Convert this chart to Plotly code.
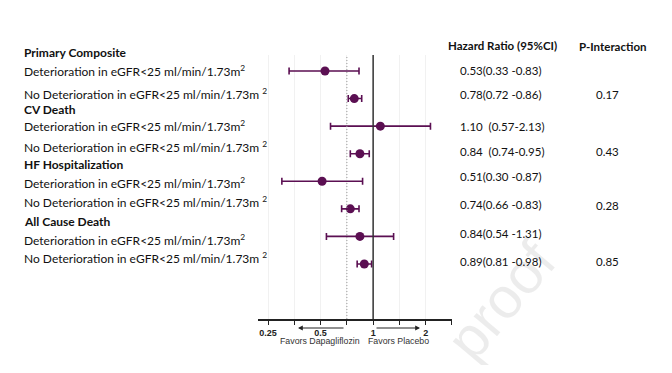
import plotly.graph_objects as go
import math

# the page adds an 8px body margin, so the figure is drawn 8px in from the corner
PAGE_W, PAGE_H, OFF = 672, 373, 8
W, H = PAGE_W - 2 * OFF, PAGE_H - 2 * OFF

# ---------------- data ----------------
outcomes = ["Primary Composite", "CV Death", "HF Hospitalization", "All Cause Death"]
subgroups = ["Deterioration in eGFR<25 ml/min/1.73m<sup>2</sup>",
             "No Deterioration in eGFR<25 ml/min/1.73m <sup>2</sup>"]
hr = [0.53, 0.78, 1.10, 0.84, 0.51, 0.74, 0.84, 0.89]
ci_lo = [0.33, 0.72, 0.57, 0.74, 0.30, 0.66, 0.54, 0.81]
ci_hi = [0.83, 0.86, 2.13, 0.95, 0.87, 0.83, 1.31, 0.98]
hr_text = ["0.53(0.33 -0.83)", "0.78(0.72 -0.86)", "1.10  (0.57-2.13)", "0.84  (0.74-0.95)",
           "0.51(0.30 -0.87)", "0.74(0.66 -0.83)", "0.84(0.54 -1.31)", "0.89(0.81 -0.98)"]
p_interaction = ["0.17", "0.43", "0.28", "0.85"]
tick_vals = [0.25, 0.3536, 0.5, 0.7071, 1, 1.4142, 2, 2.8284]
tick_text = ["<b>0.25</b>", "", "<b>0.5</b>", "", "<b>1</b>", "", "<b>2</b>", ""]
ref_overall = 0.7071

rows = list(range(1, len(hr) + 1))

# ---------------- layout helpers (page pixels -> paper) ----------------
def px(x):
    return (x - OFF) / W

def py(y):
    return 1 - (y - OFF) / H

PURPLE = "#5b0f52"
TXT = "Lato"
AX = "Liberation Sans"

fig = go.Figure()
fig.add_trace(go.Scatter(
    x=hr, y=rows, mode="markers",
    marker=dict(color=PURPLE, size=9),
    error_x=dict(type="data", symmetric=False,
                 array=[h - m for h, m in zip(ci_hi, hr)],
                 arrayminus=[m - l for m, l in zip(hr, ci_lo)],
                 color=PURPLE, thickness=1.6, width=3.5),
    showlegend=False, hoverinfo="skip",
))

ann = []
label_y_hdr = [52, 109, 164, 221.5]
label_y_rows = [71, 93.5, 126.5, 147.5, 183, 202, 239.5, 258]
for i, name in enumerate(outcomes):
    ann.append(dict(text="<b>" + name + "</b>", x=px(22), y=py(label_y_hdr[i]),
                    xanchor="left", yanchor="middle", showarrow=False,
                    font=dict(family=TXT, size=12, color="#111")))
    for j, sg in enumerate(subgroups):
        ann.append(dict(text=sg, x=px(22), y=py(label_y_rows[2 * i + j]),
                        xanchor="left", yanchor="middle", showarrow=False,
                        font=dict(family=TXT, size=12, color="#111")))

ann.append(dict(text="<b>Hazard Ratio (95%CI)</b>", x=px(446), y=py(46), xanchor="left",
                yanchor="middle", showarrow=False, font=dict(family=TXT, size=11.5, color="#111")))
ann.append(dict(text="<b>P-Interaction</b>", x=px(577), y=py(46.5), xanchor="left",
                yanchor="middle", showarrow=False, font=dict(family=TXT, size=11.5, color="#111")))
hr_y = [70, 94, 126.7, 151.7, 176.7, 204.3, 233.3, 261.7]
for t, yy in zip(hr_text, hr_y):
    ann.append(dict(text=t, x=px(458), y=py(yy), xanchor="left", yanchor="middle",
                    showarrow=False, font=dict(family=TXT, size=11.5, color="#111")))
p_y = [94, 151.7, 205.7, 261.7]
for t, yy in zip(p_interaction, p_y):
    ann.append(dict(text=t, x=px(607), y=py(yy), xanchor="center", yanchor="middle",
                    showarrow=False, font=dict(family=TXT, size=11.5, color="#111")))

# favors labels and arrows
ann.append(dict(text="Favors Dapagliflozin", x=px(320), y=py(341), xanchor="center",
                yanchor="middle", showarrow=False,
                font=dict(family=AX, size=8.8, color="#333")))
ann.append(dict(text="Favors Placebo", x=px(398), y=py(341), xanchor="center",
                yanchor="middle", showarrow=False,
                font=dict(family=AX, size=8.8, color="#333")))
ann.append(dict(text="", x=px(298), y=py(328), ax=47, ay=0, showarrow=True,
                arrowhead=2, arrowsize=0.8, arrowwidth=1.2, arrowcolor="#222"))
ann.append(dict(text="", x=px(420), y=py(328), ax=-45, ay=0, showarrow=True,
                arrowhead=2, arrowsize=0.8, arrowwidth=1.2, arrowcolor="#222"))

# faint watermark
ann.append(dict(text="proof", x=px(500), y=py(300), xanchor="center", yanchor="middle",
                showarrow=False, textangle=-50,
                font=dict(family=AX, size=58, color="rgba(0,0,0,0.075)")))

for a in ann:
    a.setdefault("xref", "paper")
    a.setdefault("yref", "paper")

fig.update_layout(
    width=W, height=H,
    margin=dict(l=0, r=0, t=0, b=0),
    paper_bgcolor="white", plot_bgcolor="white",
    annotations=ann,
    xaxis=dict(type="log", domain=[px(258), px(452)],
               range=[math.log10(0.219), math.log10(2.83)],
               tickvals=tick_vals, ticktext=tick_text,
               ticks="outside", ticklen=4, tickwidth=1, tickcolor="#222",
               showline=True, linecolor="#222", linewidth=1.5,
               showgrid=True, gridcolor="#f1f1f1", gridwidth=1,
               zeroline=False,
               tickfont=dict(family=AX, size=9, color="#222")),
    yaxis=dict(domain=[py(319), py(55)], range=[9.995, 0.42],
               showticklabels=False, showgrid=False, zeroline=False, showline=False,
               ticks=""),
    shapes=[
        dict(type="line", xref="x", yref="y domain", x0=1, x1=1, y0=0, y1=1,
             line=dict(color="#333", width=1.5)),
        dict(type="line", xref="x", yref="y domain", x0=ref_overall, x1=ref_overall, y0=0, y1=1,
             line=dict(color="#999", width=1, dash="1px,2px")),
    ],
)

fig.write_html("out.html")
